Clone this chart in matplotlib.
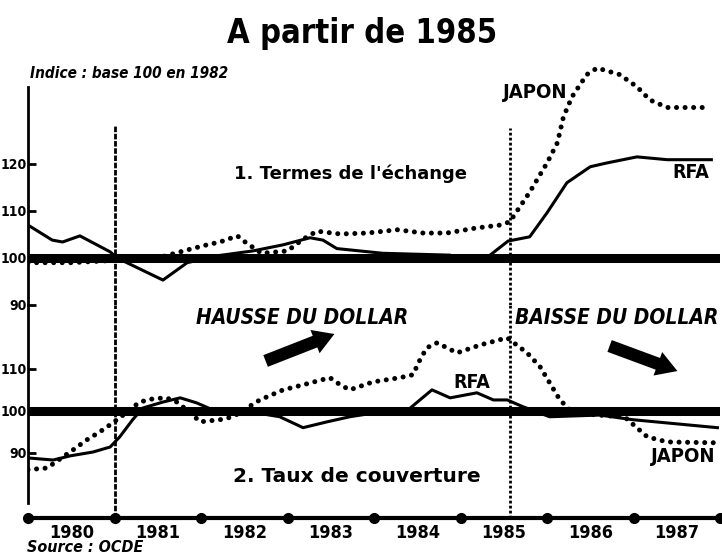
import matplotlib
matplotlib.use('Agg')
import matplotlib.pyplot as plt
from matplotlib.patches import FancyArrowPatch

# 1. Termes de l'echange (indice, base 100)
termes_rfa_t = [1980.0, 1980.28, 1980.4, 1980.6, 1980.95, 1981.03, 1981.56, 1981.84, 1982.2, 1982.6,
                1982.95, 1983.26, 1983.41, 1983.57, 1984.1, 1984.88, 1985.03, 1985.3, 1985.55, 1985.8,
                1986.0, 1986.23, 1986.5, 1986.69, 1987.04, 1987.39, 1987.9]
termes_rfa = [107.0, 103.8, 103.4, 104.7, 101.3, 100.0, 95.3, 99.0, 100.5, 101.5,
              102.8, 104.3, 103.8, 102.0, 101.0, 100.6, 99.6, 100.0, 103.6, 104.5,
              109.6, 116.0, 119.4, 120.2, 121.5, 120.9, 120.9]
termes_japon_t = [1980.0, 1980.5, 1981.0, 1981.5, 1981.84, 1982.07, 1982.22, 1982.42, 1982.51, 1982.7,
                  1983.0, 1983.18, 1983.34, 1983.61, 1983.92, 1984.27, 1984.57, 1984.84, 1985.19, 1985.46,
                  1985.57, 1985.8, 1986.0, 1986.12, 1986.19, 1986.29, 1986.46, 1986.58, 1986.84, 1987.04,
                  1987.19, 1987.39, 1987.85]
termes_japon = [99.0, 99.0, 99.5, 100.0, 101.7, 102.8, 103.4, 104.7, 103.4, 101.0,
                101.5, 104.0, 105.7, 105.1, 105.3, 106.0, 105.3, 105.3, 106.4, 107.0,
                107.7, 114.0, 120.2, 124.5, 130.0, 134.3, 139.0, 140.4, 139.0, 136.4,
                133.6, 132.0, 132.0]

# 2. Taux de couverture
taux_rfa_t = [1980.0, 1980.29, 1980.49, 1980.75, 1980.95, 1981.06, 1981.21, 1981.33, 1981.56, 1981.76,
              1981.95, 1982.14, 1982.5, 1982.91, 1983.18, 1983.46, 1983.72, 1984.0, 1984.38, 1984.67,
              1984.88, 1985.19, 1985.38, 1985.54, 1985.72, 1986.03, 1986.61, 1986.99, 1987.97]
taux_rfa = [88.8, 88.3, 89.3, 90.2, 91.4, 93.8, 97.9, 100.7, 102.1, 103.1,
            101.9, 100.2, 100.0, 98.6, 96.0, 97.4, 98.6, 99.5, 100.0, 105.0,
            103.1, 104.3, 102.6, 102.6, 101.0, 98.6, 99.0, 97.9, 96.0]
taux_japon_t = [1980.0, 1980.22, 1980.52, 1980.68, 1980.83, 1980.95, 1981.1, 1981.29, 1981.45, 1981.6,
                1981.72, 1981.85, 1981.99, 1982.22, 1982.37, 1982.68, 1982.95, 1983.18, 1983.49, 1983.61,
                1983.72, 1983.99, 1984.3, 1984.45, 1984.53, 1984.61, 1984.73, 1984.96, 1985.23, 1985.54,
                1985.77, 1985.92, 1986.03, 1986.15, 1986.3, 1986.6, 1986.9, 1987.16, 1987.39, 1987.97]
taux_japon = [86.0, 86.4, 90.7, 93.1, 95.0, 96.7, 99.0, 102.1, 102.9, 103.1,
              102.1, 100.0, 97.4, 97.9, 98.6, 102.6, 105.0, 106.2, 107.9, 106.2,
              105.0, 106.9, 107.9, 108.6, 112.1, 115.0, 116.2, 113.8, 115.7, 117.4,
              113.8, 110.5, 106.7, 102.6, 99.5, 99.0, 98.5, 93.8, 92.6, 92.4]

years = [1980, 1981, 1982, 1983, 1984, 1985, 1986, 1987]
year_marks = [1980, 1981, 1982, 1983, 1984, 1985, 1986, 1987, 1988]
dollar_turns = [1981.0, 1985.57]  # hausse / baisse du dollar
upper_ticks = [90, 100, 110, 120]
lower_ticks = [90, 100, 110]

W, H = 722, 557
fig = plt.figure(figsize=(W / 100, H / 100), dpi=100)


def fx(x):
    return x / W


def fy(y):
    return 1 - y / H


# condensed bold lettering like the newspaper
cond = dict(family=['DejaVu Sans'], fontstretch='condensed', fontweight='bold')
dotted = dict(color='k', lw=3.6, linestyle=(0, (0.01, 1.7)), dash_capstyle='round')

ax1 = fig.add_axes([fx(28), fy(305), 692 / W, 245 / H])
ax2 = fig.add_axes([fx(28), fy(518), 692 / W, 213 / H])
for ax in (ax1, ax2):
    ax.set_xlim(1980, 1988)
    ax.patch.set_visible(False)
    for s in ('top', 'right', 'bottom'):
        ax.spines[s].set_visible(False)
    ax.spines['left'].set_linewidth(2)
    ax.tick_params(axis='y', direction='in', length=6, width=2, pad=1)
    ax.axhline(100, color='k', lw=6.5, zorder=1)

ax1.set_ylim(90, 142.1)
ax2.set_ylim(74.5, 125.2)
ax1.spines['left'].set_bounds(90, 136.4)
ax2.spines['left'].set_bounds(78.1, 125.2)

ax1.set_yticks(upper_ticks)
ax1.set_yticklabels([str(v) for v in upper_ticks], fontsize=10, **cond)
ax2.set_yticks(lower_ticks)
ax2.set_yticklabels([str(v) for v in lower_ticks], fontsize=10, **cond)

ax1.set_xticks([])
ax2.spines['bottom'].set_visible(True)
ax2.spines['bottom'].set_linewidth(3)
ax2.set_xticks([y + 0.5 for y in years])
ax2.set_xticklabels([str(y) for y in years], fontsize=13, **cond)
ax2.tick_params(axis='x', length=0, pad=4)
ax2.plot(year_marks, [0] * len(year_marks), 'o', color='k', ms=7,
         transform=ax2.get_xaxis_transform(), clip_on=False)

# curves
ax1.plot(termes_rfa_t, termes_rfa, color='k', lw=2.2, zorder=3)
ax1.plot(termes_japon_t, termes_japon, zorder=3, **dotted)
ax2.plot(taux_rfa_t, taux_rfa, color='k', lw=2.2, zorder=3)
ax2.plot(taux_japon_t, taux_japon, zorder=3, **dotted)

# vertical markers
ax1.vlines(dollar_turns, 90, [128.1, 127.7], color='k', lw=2, linestyles=[(0, (2, 0.6)), (0, (1, 0.8))])
ax2.vlines(dollar_turns, 74.5, 125.2, color='k', lw=2, linestyles=[(0, (2, 0.6)), (0, (1, 0.8))])

# texts
fig.text(fx(362), fy(33), 'A partir de 1985', ha='center', va='center', fontsize=23.5, **cond)
fig.text(fx(30), fy(73), 'Indice : base 100 en 1982', ha='left', va='center', fontsize=11,
         style='italic', **cond)
fig.text(fx(535), fy(92), 'JAPON', ha='center', va='center', fontsize=14.5, **cond)
fig.text(fx(691), fy(172), 'RFA', ha='center', va='center', fontsize=14, **cond)
fig.text(fx(350), fy(174), "1. Termes de l'échange", ha='center', va='center', fontsize=13,
         fontweight='bold')
fig.text(fx(302), fy(318), 'HAUSSE DU DOLLAR', ha='center', va='center', fontsize=15,
         style='italic', **cond)
fig.text(fx(718), fy(318), 'BAISSE DU DOLLAR', ha='right', va='center', fontsize=15,
         style='italic', **cond)
fig.text(fx(472), fy(383), 'RFA', ha='center', va='center', fontsize=14, **cond)
fig.text(fx(683), fy(456), 'JAPON', ha='center', va='center', fontsize=14.5, **cond)
fig.text(fx(357), fy(477), '2. Taux de couverture', ha='center', va='center', fontsize=14.5,
         fontweight='bold')
fig.text(fx(27), fy(540), 'Source : OCDE', ha='left', va='top', fontsize=11.5, style='italic', **cond)

arrow_style = 'simple,head_width=0.9,head_length=0.75,tail_width=0.45'
for a, b in [((263, 362), (337, 333)), ((607, 345), (680, 372))]:
    fig.add_artist(FancyArrowPatch((fx(a[0]), fy(a[1])), (fx(b[0]), fy(b[1])),
                                   transform=fig.transFigure, arrowstyle=arrow_style,
                                   mutation_scale=20, color='k', lw=0))

fig.savefig('out.png', dpi=100)
